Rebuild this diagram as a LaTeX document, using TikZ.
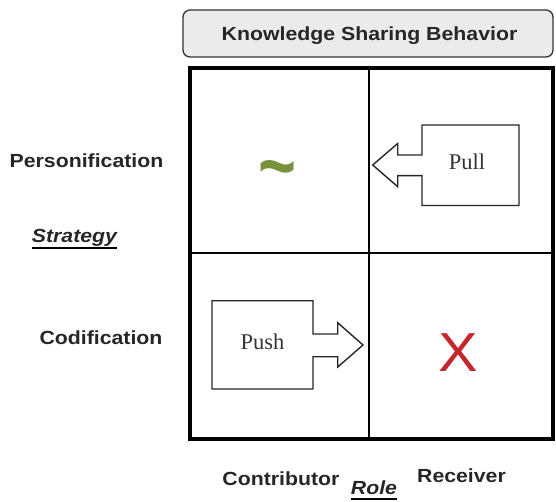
\documentclass[tikz,border=0pt]{standalone}
\usepackage{fontspec}
\setmainfont{Liberation Serif}
\setsansfont{Liberation Sans}
\definecolor{hdrfill}{HTML}{EBEBEB}
\definecolor{hdrline}{HTML}{333333}
\definecolor{tildegreen}{HTML}{77933C}
\definecolor{xred}{HTML}{C3262B}
\newcommand{\wide}[1]{\scalebox{1.12}[1]{#1}}
\tikzset{
  lbl/.style={font=\sffamily\bfseries\fontsize{19}{22}\selectfont, text=black!85, inner sep=0pt, anchor=base},
  axis/.style={font=\sffamily\bfseries\itshape\fontsize{19}{22}\selectfont, text=black!85, inner sep=0pt, anchor=base},
  arrowbox/.style={draw=black!85, line width=1.4pt, fill=white, line join=miter},
  word/.style={font=\fontsize{22.5}{26}\selectfont, text=black!80, inner sep=0pt, anchor=base},
  gridframe/.style={line width=4pt, draw=black}
}
\begin{document}
\begin{tikzpicture}[x=1pt,y=-1pt]
\useasboundingbox (0,0) rectangle (556,502);
% header
\node[draw=hdrline, line width=1.3pt, fill=hdrfill, rounded corners=7pt, minimum width=370pt, minimum height=47pt, inner sep=0pt] (hdr) at (368,33.5) {};
\node[lbl] (hdrt) at (369.5,41) {\wide{Knowledge Sharing Behavior}};
% grid
\draw[gridframe] (190,68) rectangle (553,439);
\draw[line width=2.5pt] (369,68) -- (369,439);
\draw[line width=2.5pt] (190,253) -- (553,253);
% pull shape
\draw[arrowbox] (422,125) -- (519,125) -- (519,205.5) -- (422,205.5) -- (422,175.7) -- (397.7,175.7) -- (397.7,186.7) -- (372.7,165) -- (397.7,143.5) -- (397.7,155) -- (422,155) -- cycle;
\node[word] (pull) at (467,170) {Pull};
% push shape
\draw[arrowbox] (212,300.7) -- (313,300.7) -- (313,334) -- (337.7,334) -- (337.7,322.7) -- (363,345) -- (337.7,367) -- (337.7,356.7) -- (313,356.7) -- (313,389) -- (212,389) -- cycle;
\node[word] (push) at (262.5,349.3) {Push};
% symbols
\node[text=tildegreen, font=\sffamily\bfseries\fontsize{62}{62}\selectfont, inner sep=0pt] (tilde) at (278,176.5) {\scalebox{1.05}[1.3]{\textasciitilde}};
\node[text=xred, font=\sffamily\fontsize{55}{55}\selectfont, inner sep=0pt] (x) at (458.5,353) {\scalebox{1.08}[1]{X}};
% labels
\node[lbl] (pers) at (86.5,168) {\wide{Personification}};
\node[axis] (strat) at (74.5,243) {\wide{Strategy}};
\draw[line width=1.8pt] (32,247.8) -- (117,247.8);
\node[lbl] (cod) at (101,344) {\wide{Codification}};
\node[lbl] (contr) at (281,485) {\wide{Contributor}};
\node[axis] (role) at (374,494.3) {\wide{Role}};
\draw[line width=1.8pt] (351,498.8) -- (397,498.8);
\node[lbl] (recv) at (461.5,482) {\wide{Receiver}};
\end{tikzpicture}
\end{document}
